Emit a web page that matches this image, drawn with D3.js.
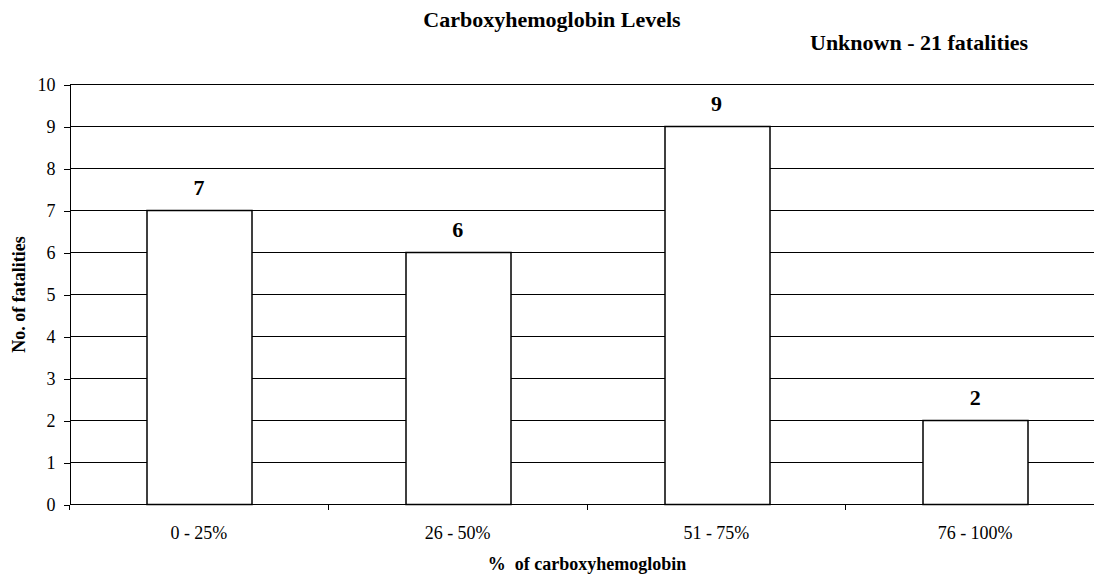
<!DOCTYPE html>
<html>
  <head>
    <meta http-equiv="Content-Type" content="text/html;charset=utf-8"/>
    <style type="text/css">

body {
  margin: 0;
  background: #fff;
  overflow: hidden;
}

svg, svg text {
  font-family: "Liberation Serif", "Times New Roman", serif;
}

.grid line {
  stroke: #000;
  stroke-width: 1px;
  shape-rendering: crispEdges;
}

.bars rect {
  fill: #fff;
  stroke: #000;
  stroke-width: 1.5px;
}

.axis path, .axis line {
  fill: none;
  stroke: #000;
  stroke-width: 1px;
  shape-rendering: crispEdges;
}

.axis text {
  font-size: 18px;
  fill: #000;
}

.label {
  font-weight: bold;
  fill: #000;
}

    </style>
  </head>
  <body>
    <svg></svg>

    <script type="text/javascript" src="https://cdn.jsdelivr.net/npm/d3@7"></script>

    <script type="text/javascript">

// data
var categories = ["0 - 25%", "26 - 50%", "51 - 75%", "76 - 100%"];
var fatalities = [7, 6, 9, 2];
var yTicks = [0, 1, 2, 3, 4, 5, 6, 7, 8, 9, 10];

var title = "Carboxyhemoglobin Levels",
    subtitle = "Unknown - 21 fatalities",
    xTitle = "% of carboxyhemoglobin",
    yTitle = "No. of fatalities";

var W = 1094, H = 577;
var m = [84.5, 0, 72.5, 69.5],   // top right bottom left
    w = 1035,                      // plot runs past the right edge of the picture
    h = H - m[0] - m[2];

var svg_c = d3.select("svg")
    .attr("width", W)
    .attr("height", H);

var svg = svg_c.append("g")
    .attr("transform", "translate(" + m[3] + "," + m[0] + ")");

var x = d3.scaleBand()
    .domain(categories)
    .range([0, w])
    .paddingInner(0.596)
    .paddingOuter(0.298);

var y = d3.scaleLinear()
    .domain([0, 10])
    .range([h, 0]);

// horizontal gridlines
svg.append("g")
    .attr("class", "grid")
  .selectAll("line")
    .data(yTicks.slice(1))
  .enter().append("line")
    .attr("x1", 0)
    .attr("x2", w)
    .attr("y1", d => y(d))
    .attr("y2", d => y(d));

// bars
svg.append("g")
    .attr("class", "bars")
  .selectAll("rect")
    .data(fatalities)
  .enter().append("rect")
    .attr("x", (d, i) => Math.round(x(categories[i])) + 0.5)
    .attr("y", d => y(d))
    .attr("width", Math.round(x.bandwidth()))
    .attr("height", d => y(0) - y(d));

// value labels
svg.append("g")
  .selectAll("text")
    .data(fatalities)
  .enter().append("text")
    .attr("class", "label")
    .attr("x", (d, i) => x(categories[i]) + x.bandwidth() / 2)
    .attr("y", d => y(d) - 16)
    .attr("text-anchor", "middle")
    .style("font-size", "22px")
    .text(d => d);

// y axis
var yAxis = svg.append("g")
    .attr("class", "axis")
    .call(d3.axisLeft(y).tickValues(yTicks).tickSize(6).tickPadding(8).tickSizeOuter(0))
    .attr("font-family", null)
    .attr("font-size", null);
yAxis.selectAll("text").attr("dy", "0.34em");

// x axis: ticks sit on the category boundaries
var step = x.step(),
    bounds = d3.range(categories.length + 1).map(i => i * step);

var xAxis = svg.append("g")
    .attr("class", "axis")
    .attr("transform", "translate(0," + h + ")");

xAxis.append("line")
    .attr("x1", 0).attr("x2", w)
    .attr("y1", 0).attr("y2", 0);

xAxis.selectAll("line.tick")
    .data(bounds)
  .enter().append("line")
    .attr("class", "tick")
    .attr("x1", d => d).attr("x2", d => d)
    .attr("y1", 0).attr("y2", 5);

xAxis.selectAll("text")
    .data(categories)
  .enter().append("text")
    .attr("x", d => x(d) + x.bandwidth() / 2)
    .attr("y", 34)
    .attr("text-anchor", "middle")
    .text(d => d);

// titles
svg_c.append("text")
    .attr("class", "label")
    .attr("x", 552)
    .attr("y", 27)
    .attr("text-anchor", "middle")
    .style("font-size", "22px")
    .text(title);

svg_c.append("text")
    .attr("class", "label")
    .attr("x", 810)
    .attr("y", 49.5)
    .style("font-size", "22px")
    .text(subtitle);

svg_c.append("text")
    .attr("class", "label")
    .attr("x", m[3] + w / 2)
    .attr("y", 570)
    .attr("text-anchor", "middle")
    .style("font-size", "18px")
    .style("white-space", "pre")
    .text(xTitle.replace("% of", "%  of"));

svg_c.append("text")
    .attr("class", "label")
    .attr("transform", "translate(25," + (m[0] + h / 2) + ") rotate(-90)")
    .attr("text-anchor", "middle")
    .style("font-size", "18px")
    .text(yTitle);

    </script>
  </body>
</html>
